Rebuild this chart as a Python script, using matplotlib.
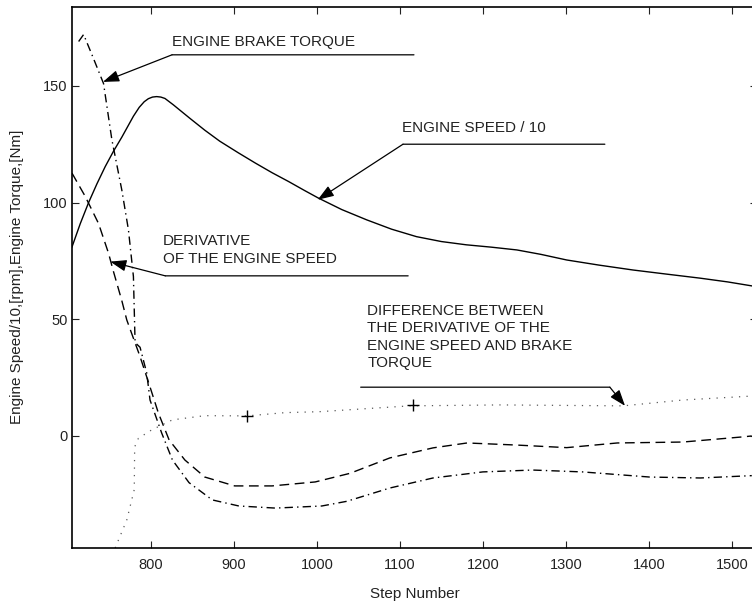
import numpy as np
import matplotlib
matplotlib.use("Agg")
import matplotlib.pyplot as plt

plt.rcParams['font.family'] = ['Liberation Sans', 'DejaVu Sans']

# engine speed / 10 (solid)
step_speed = [705, 715, 725, 735, 745, 755, 765, 772, 779, 786, 792, 797, 802, 807, 812,
              817, 827, 847, 865, 883, 905, 926, 946, 966, 985, 1002, 1030, 1060, 1090,
              1120, 1150, 1180, 1210, 1241, 1270, 1301, 1340, 1381, 1420, 1462, 1495, 1524]
speed = [81, 91, 100, 108, 115.4, 122, 128, 132.5, 137, 140.8, 143.2, 144.5, 145.2,
         145.4, 145.2, 144.6, 141.9, 136.1, 131, 126.3, 121.4, 116.9, 112.8, 109,
         105.2, 101.9, 97, 92.6, 88.6, 85.4, 83.3, 81.9, 80.9, 79.7, 77.8, 75.4, 73.2,
         71.1, 69.4, 67.6, 66, 64.3]

# engine brake torque (dash-dot)
step_brake = [713, 719, 730, 743, 753, 765, 773, 779, 781, 787, 795, 799, 813, 826,
              846, 874, 906, 950, 1006, 1036, 1088, 1140, 1200, 1260, 1320, 1401, 1462, 1524]
brake = [169, 172, 162.5, 151, 127, 105.4, 88.3, 68.3, 40, 38, 27, 15.4, 1.3, -10.3,
         -20, -27.4, -30, -30.9, -30, -28, -22.3, -18, -15.4, -14.6, -15.4, -17.6, -18, -17]

# derivative of the engine speed (dashed)
step_deriv = [705, 721, 737, 749, 755, 765, 771, 787, 799, 809, 822, 841, 865, 901,
              946, 998, 1040, 1088, 1140, 1181, 1241, 1301, 1362, 1441, 1513, 1524]
deriv = [112.6, 102.6, 91, 78.3, 70.4, 58, 49.7, 34, 21, 9.9, -1.7, -10.3, -17.6, -21.4,
         -21.4, -19.7, -16, -9.4, -5.1, -3, -3.9, -5, -3, -2.6, -0.4, 0]

# difference (dotted)
step_diff = [757, 771, 780, 780.5, 785, 801, 826, 865, 916, 962, 1003, 1112, 1221,
             1369, 1441, 1524]
diff = [-48, -36, -23, -4.7, -1, 2.6, 6.9, 8.7, 8.6, 10, 10.4, 12.9, 13.3,
        12.9, 15.4, 17.1]

# '+' markers on the difference curve
mark_step = [916, 1116]
mark_val = [8.6, 13.1]

fig = plt.figure(figsize=(7.52, 6.03), dpi=100)
ax = fig.add_axes([72 / 752, 55 / 603, 684.75 / 752, 541.5 / 603])

ax.plot(step_speed, speed, color='black', lw=1.0)
ax.plot(step_brake, brake, color='black', lw=1.0, linestyle=(0, (6, 3, 1, 3)))
ax.plot(step_deriv, deriv, color='black', lw=1.0, linestyle=(0, (7, 4)))
ax.plot(step_diff, diff, color='0.35', lw=0.9, linestyle=(0, (1, 5)))
ax.plot(mark_step, mark_val, linestyle='none', marker='+', color='black', ms=9, mew=1.0)

ax.set_xlim(705, 1530)
ax.set_ylim(-48, 184)
ax.set_xticks([800, 900, 1000, 1100, 1200, 1300, 1400, 1500])
ax.set_yticks([0, 50, 100, 150])
ax.tick_params(direction='in', top=True, right=True, length=5, width=0.8,
               labelsize=10.5, colors='#222222')
ax.tick_params(axis='x', pad=7)
ax.tick_params(axis='y', pad=3)
for s in ax.spines.values():
    s.set_linewidth(1.2)

ax.set_xlabel('Step Number', fontsize=11, color='#222222', labelpad=11)
ax.set_ylabel('Engine Speed/10,[rpm],Engine Torque,[Nm]', fontsize=11,
              color='#222222', labelpad=13.5)

arrow = dict(arrowstyle='-|>,head_length=0.7,head_width=0.25', color='black',
             lw=0.9, shrinkA=0, shrinkB=0, mutation_scale=14)
leader = dict(arrowstyle='-', color='black', lw=0.9, shrinkA=0, shrinkB=0)
txt = dict(fontsize=11, color='#222222', ha='left', va='center', linespacing=1.3)

# ENGINE BRAKE TORQUE
ax.text(825.5, 169, 'ENGINE BRAKE TORQUE', **txt)
ax.annotate('', xy=(1117, 163.3), xytext=(825.5, 163.3), arrowprops=leader)
ax.annotate('', xy=(742.3, 151.7), xytext=(825.5, 163.3), arrowprops=arrow)

# ENGINE SPEED / 10
ax.text(1102.6, 132, 'ENGINE SPEED / 10', **txt)
ax.annotate('', xy=(1347, 125), xytext=(1103.8, 125), arrowprops=leader)
ax.annotate('', xy=(1001, 101.2), xytext=(1103.8, 125), arrowprops=arrow)

# DERIVATIVE OF THE ENGINE SPEED
ax.text(814.3, 79.7, 'DERIVATIVE\nOF THE ENGINE SPEED', **txt)
ax.annotate('', xy=(1110, 68.6), xytext=(817.4, 68.6), arrowprops=leader)
ax.annotate('', xy=(751, 74.7), xytext=(817.4, 68.6), arrowprops=arrow)

# DIFFERENCE ...
ax.text(1061, 42.4, 'DIFFERENCE BETWEEN\nTHE DERIVATIVE OF THE\nENGINE SPEED AND BRAKE\nTORQUE', **txt)
ax.annotate('', xy=(1353, 20.9), xytext=(1052.8, 20.9), arrowprops=leader)
ax.annotate('', xy=(1371.3, 12.9), xytext=(1353, 20.9), arrowprops=arrow)

fig.savefig('out.png', dpi=100)
